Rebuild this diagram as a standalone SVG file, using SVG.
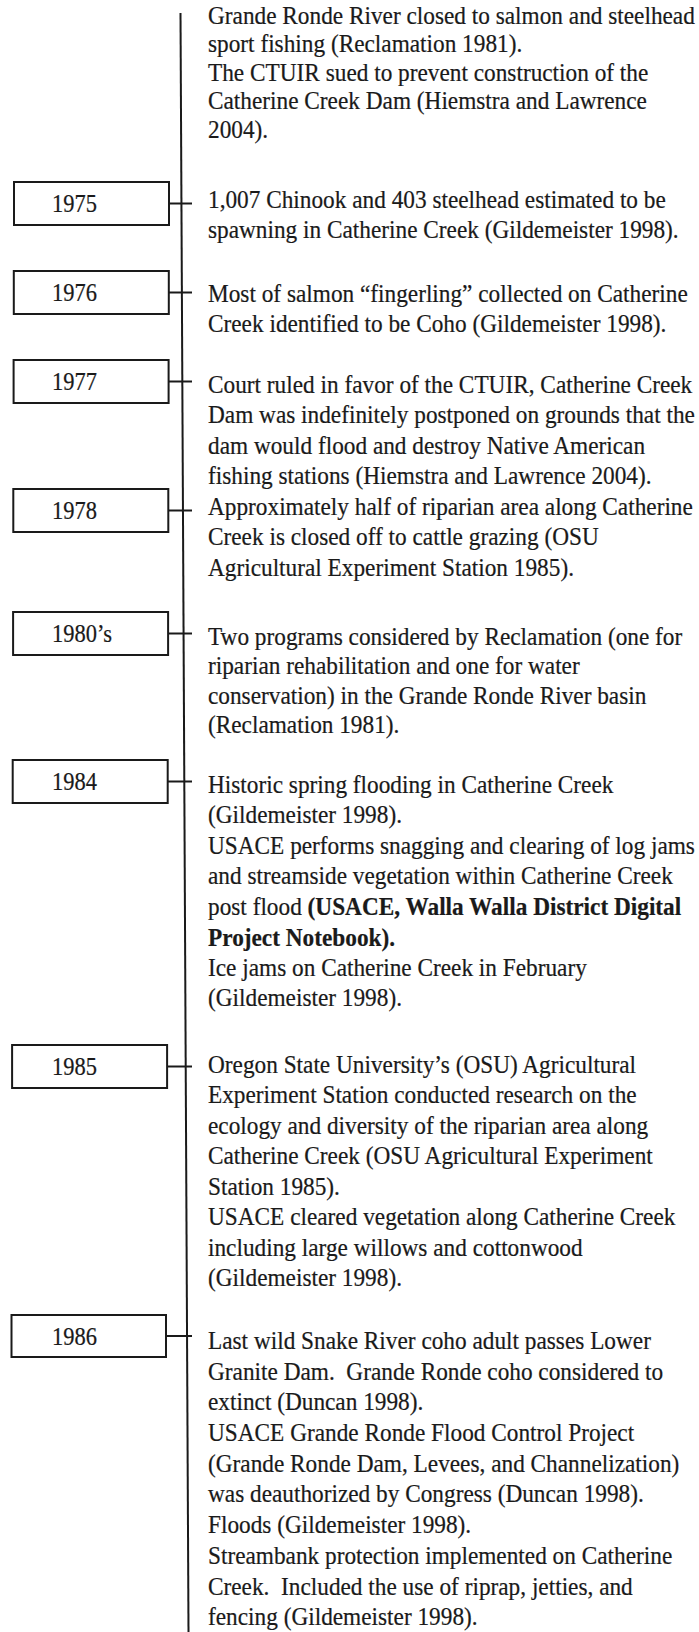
<svg xmlns="http://www.w3.org/2000/svg" width="699" height="1632" viewBox="0 0 699 1632">
<style>
.t{font-family:"Liberation Serif","Times New Roman",serif;font-size:23.3px;fill:#1a1a1a;stroke:#1a1a1a;stroke-width:0.2}
.b{font-weight:bold}
.y{font-family:"Liberation Serif","Times New Roman",serif;font-size:22.5px;fill:#1a1a1a;stroke:#1a1a1a;stroke-width:0.2}
.box{fill:#fff;stroke:#1a1a1a;stroke-width:2}
.ln{stroke:#1a1a1a;stroke-width:2;fill:none}
</style>
<rect width="699" height="1632" fill="#fff"/>
<g id="connectors">
<path class="ln" d="M180.5,13 L188.5,1632"/>
<path class="ln" d="M169,203.5 H192"/>
<path class="ln" d="M168.8,292.5 H192"/>
<path class="ln" d="M168.6,381.5 H192"/>
<path class="ln" d="M168.3,510.5 H192"/>
<path class="ln" d="M168.1,633.5 H192"/>
<path class="ln" d="M167.7,781.5 H192"/>
<path class="ln" d="M167.1,1066.5 H192"/>
<path class="ln" d="M166,1336 H192"/>
</g>
<g id="event-top">
<text class="t" transform="scale(1,1.12)">
<tspan x="208" y="21.43">Grande Ronde River closed to salmon and steelhead</tspan>
<tspan x="208" y="46.88">sport fishing (Reclamation 1981).</tspan>
<tspan x="208" y="72.32">The CTUIR sued to prevent construction of the</tspan>
<tspan x="208" y="97.77">Catherine Creek Dam (Hiemstra and Lawrence</tspan>
<tspan x="208" y="123.21">2004).</tspan>
</text>
</g>
<g id="year-1975">
<rect class="box" x="14" y="182" width="155" height="43"/>
<text class="y" transform="scale(1,1.12)" x="52" y="189.29">1975</text>
</g>
<g id="event-1975">
<text class="t" transform="scale(1,1.12)">
<tspan x="208" y="185.71">1,007 Chinook and 403 steelhead estimated to be</tspan>
<tspan x="208" y="212.5">spawning in Catherine Creek (Gildemeister 1998).</tspan>
</text>
</g>
<g id="year-1976">
<rect class="box" x="13.8" y="271" width="155" height="43"/>
<text class="y" transform="scale(1,1.12)" x="52" y="268.75">1976</text>
</g>
<g id="event-1976">
<text class="t" transform="scale(1,1.12)">
<tspan x="208" y="269.64">Most of salmon “fingerling” collected on Catherine</tspan>
<tspan x="208" y="296.43">Creek identified to be Coho (Gildemeister 1998).</tspan>
</text>
</g>
<g id="year-1977">
<rect class="box" x="13.6" y="360" width="155" height="43"/>
<text class="y" transform="scale(1,1.12)" x="52" y="348.21">1977</text>
</g>
<g id="event-1977">
<text class="t" transform="scale(1,1.12)">
<tspan x="208" y="350.89">Court ruled in favor of the CTUIR, Catherine Creek</tspan>
<tspan x="208" y="378.13">Dam was indefinitely postponed on grounds that the</tspan>
<tspan x="208" y="405.36">dam would flood and destroy Native American</tspan>
<tspan x="208" y="432.59">fishing stations (Hiemstra and Lawrence 2004).</tspan>
</text>
</g>
<g id="year-1978">
<rect class="box" x="13.3" y="489" width="155" height="43"/>
<text class="y" transform="scale(1,1.12)" x="52" y="463.39">1978</text>
</g>
<g id="event-1978">
<text class="t" transform="scale(1,1.12)">
<tspan x="208" y="459.82">Approximately half of riparian area along Catherine</tspan>
<tspan x="208" y="487.05">Creek is closed off to cattle grazing (OSU</tspan>
<tspan x="208" y="514.29">Agricultural Experiment Station 1985).</tspan>
</text>
</g>
<g id="year-1980s">
<rect class="box" x="13.1" y="612" width="155" height="43"/>
<text class="y" transform="scale(1,1.12)" x="52" y="573.21">1980’s</text>
</g>
<g id="event-1980s">
<text class="t" transform="scale(1,1.12)">
<tspan x="208" y="575.89">Two programs considered by Reclamation (one for</tspan>
<tspan x="208" y="602.23">riparian rehabilitation and one for water</tspan>
<tspan x="208" y="628.57">conservation) in the Grande Ronde River basin</tspan>
<tspan x="208" y="654.91">(Reclamation 1981).</tspan>
</text>
</g>
<g id="year-1984">
<rect class="box" x="12.7" y="760" width="155" height="43"/>
<text class="y" transform="scale(1,1.12)" x="52" y="705.36">1984</text>
</g>
<g id="event-1984">
<text class="t" transform="scale(1,1.12)">
<tspan x="208" y="708.04">Historic spring flooding in Catherine Creek</tspan>
<tspan x="208" y="735.27">(Gildemeister 1998).</tspan>
<tspan x="208" y="762.5">USACE performs snagging and clearing of log jams</tspan>
<tspan x="208" y="789.73">and streamside vegetation within Catherine Creek</tspan>
<tspan x="208" y="816.96">post flood <tspan class="b">(USACE, Walla Walla District Digital</tspan></tspan>
<tspan x="208" y="844.2" class="b">Project Notebook).</tspan>
<tspan x="208" y="871.43">Ice jams on Catherine Creek in February</tspan>
<tspan x="208" y="898.66">(Gildemeister 1998).</tspan>
</text>
</g>
<g id="year-1985">
<rect class="box" x="12.1" y="1045" width="155" height="43"/>
<text class="y" transform="scale(1,1.12)" x="52" y="959.82">1985</text>
</g>
<g id="event-1985">
<text class="t" transform="scale(1,1.12)">
<tspan x="208" y="958.04">Oregon State University’s (OSU) Agricultural</tspan>
<tspan x="208" y="985.27">Experiment Station conducted research on the</tspan>
<tspan x="208" y="1012.5">ecology and diversity of the riparian area along</tspan>
<tspan x="208" y="1039.73">Catherine Creek (OSU Agricultural Experiment</tspan>
<tspan x="208" y="1066.96">Station 1985).</tspan>
<tspan x="208" y="1094.2">USACE cleared vegetation along Catherine Creek</tspan>
<tspan x="208" y="1121.43">including large willows and cottonwood</tspan>
<tspan x="208" y="1148.66">(Gildemeister 1998).</tspan>
</text>
</g>
<g id="year-1986">
<rect class="box" x="11.5" y="1315" width="154.5" height="42"/>
<text class="y" transform="scale(1,1.12)" x="52" y="1200.89">1986</text>
</g>
<g id="event-1986">
<text class="t" transform="scale(1,1.12)">
<tspan x="208" y="1204.46">Last wild Snake River coho adult passes Lower</tspan>
<tspan x="208" y="1231.88">Granite Dam.&#160; Grande Ronde coho considered to</tspan>
<tspan x="208" y="1259.29">extinct (Duncan 1998).</tspan>
<tspan x="208" y="1286.61">USACE Grande Ronde Flood Control Project</tspan>
<tspan x="208" y="1314.11">(Grande Ronde Dam, Levees, and Channelization)</tspan>
<tspan x="208" y="1341.52">was deauthorized by Congress (Duncan 1998).</tspan>
<tspan x="208" y="1368.75">Floods (Gildemeister 1998).</tspan>
<tspan x="208" y="1396.43">Streambank protection implemented on Catherine</tspan>
<tspan x="208" y="1423.75">Creek.&#160; Included the use of riprap, jetties, and</tspan>
<tspan x="208" y="1450.89">fencing (Gildemeister 1998).</tspan>
</text>
</g>
</svg>
